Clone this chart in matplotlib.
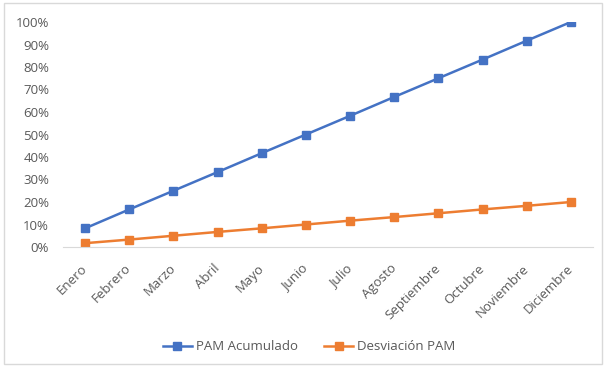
import matplotlib
matplotlib.use("Agg")
import matplotlib.pyplot as plt
from matplotlib.patches import Rectangle
from matplotlib.ticker import PercentFormatter

months = ["Enero", "Febrero", "Marzo", "Abril", "Mayo", "Junio", "Julio",
          "Agosto", "Septiembre", "Octubre", "Noviembre", "Diciembre"]
pam_acumulado = [8.3, 16.7, 25.0, 33.3, 41.7, 50.0, 58.3, 66.7, 75.0, 83.3, 91.7, 100.0]
desviacion_pam = [1.7, 3.3, 5.0, 6.7, 8.3, 10.0, 11.7, 13.3, 15.0, 16.7, 18.3, 20.0]
yticks = [0, 10, 20, 30, 40, 50, 60, 70, 80, 90, 100]

plt.rcParams['font.family'] = ['Open Sans', 'DejaVu Sans']
txt = '#595959'

fig = plt.figure(figsize=(6.06, 3.67), dpi=100)
fig.patches.append(Rectangle((4/606, 3/367), 598/606, 361/367, transform=fig.transFigure,
                             fill=False, edgecolor='#D9D9D9', linewidth=1))
ax = fig.add_axes([63/606, 1 - 247/367, 530/606, 225/367])

x = list(range(len(months)))
ax.plot(x, pam_acumulado, color='#4472C4', marker='s', markersize=5.5, linewidth=1.8,
        label='PAM Acumulado')
ax.plot(x, desviacion_pam, color='#ED7D31', marker='s', markersize=5.5, linewidth=1.8,
        label='Desviación PAM')

ax.set_xlim(-0.5, len(months) - 0.5)
ax.set_ylim(0, 100)
ax.set_yticks(yticks)
ax.yaxis.set_major_formatter(PercentFormatter(decimals=0))
ax.set_xticks(x)
ax.set_xticklabels(months, rotation=45, ha='right', va='center', rotation_mode='anchor')
ax.tick_params(axis='both', length=0, colors=txt, labelsize=9.5)
ax.tick_params(axis='x', pad=14)
ax.tick_params(axis='y', pad=10)
for s in ['top', 'right', 'left']:
    ax.spines[s].set_visible(False)
ax.spines['bottom'].set_color('#D9D9D9')

fig.legend(loc='center', bbox_to_anchor=(0.51, 1 - 347/367), ncol=2, frameon=False,
           fontsize=9.5, labelcolor=txt, handlelength=2.2, handletextpad=0.3,
           columnspacing=2.0)

fig.savefig('out.png', dpi=100)
